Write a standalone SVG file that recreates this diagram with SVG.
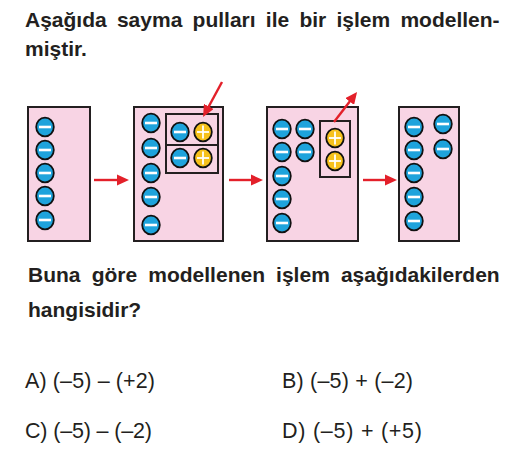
<svg xmlns="http://www.w3.org/2000/svg" width="527" height="453" viewBox="0 0 527 453">
<style>
.t{font-family:"Liberation Sans",Arial,sans-serif;fill:#231f20}
.b{font-weight:bold;font-size:21px}
.r{font-size:21.5px}
.box{fill:#f8d4e4;stroke:#231f20;stroke-width:2}
.in{fill:none;stroke:#231f20;stroke-width:2}
.neg{fill:#1ea3dc;stroke:#111;stroke-width:1.8}
.pos{fill:#f6c11c;stroke:#111;stroke-width:1.8}
.sg{stroke:#fff;stroke-width:2.6;fill:none}
.sp{stroke:#fff;stroke-width:1.8;fill:none}
.ar{stroke:#e3202a;stroke-width:2.4;fill:none}
</style>
<defs>
<g id="m"><ellipse class="neg" cx="0" cy="0" rx="8.8" ry="9.4"/><line class="sg" x1="-6" y1="0" x2="6" y2="0"/></g>
<g id="p"><ellipse class="pos" cx="0" cy="0" rx="8.8" ry="9.4"/><line class="sp" x1="-6" y1="0" x2="6" y2="0"/><line class="sp" x1="0" y1="-6.5" x2="0" y2="6.5"/></g>
<marker id="ah" viewBox="0 0 12 11" refX="6" refY="5.5" markerWidth="5" markerHeight="4.6" orient="auto" markerUnits="strokeWidth"><path d="M0,0 L12,5.5 L0,11 Z" fill="#e3202a"/></marker>
</defs>
<text class="t b" x="25" y="27" word-spacing="4.4">Aşağıda sayma pulları ile bir işlem modellen-</text>
<text class="t b" x="25" y="56">miştir.</text>
<g id="node1">
<rect class="box" x="28" y="107" width="62" height="134"/>
<use href="#m" x="45" y="127"/><use href="#m" x="45" y="150"/><use href="#m" x="45" y="173"/><use href="#m" x="45" y="196"/><use href="#m" x="45" y="220"/>
</g>
<g id="node2">
<rect class="box" x="134" y="107" width="89" height="134"/>
<use href="#m" x="151" y="123"/><use href="#m" x="151" y="148"/><use href="#m" x="151" y="173"/><use href="#m" x="151" y="197"/><use href="#m" x="151" y="225"/>
<rect class="in" x="166" y="114" width="52" height="59"/>
<line class="in" x1="166" y1="145" x2="218" y2="145"/>
<use href="#m" x="180" y="132"/><use href="#p" x="203" y="132"/>
<use href="#m" x="180" y="158"/><use href="#p" x="203" y="158"/>
</g>
<g id="node3">
<rect class="box" x="267" y="107" width="91" height="134"/>
<use href="#m" x="282" y="129"/><use href="#m" x="305" y="129"/>
<use href="#m" x="282" y="152"/><use href="#m" x="305" y="152"/>
<use href="#m" x="282" y="176"/><use href="#m" x="282" y="199"/><use href="#m" x="282" y="223"/>
<rect class="in" x="320" y="121" width="30" height="56"/>
<use href="#p" x="335" y="138"/><use href="#p" x="335" y="161"/>
</g>
<g id="node4">
<rect class="box" x="399" y="107" width="60" height="134"/>
<use href="#m" x="414" y="127"/><use href="#m" x="414" y="150"/><use href="#m" x="414" y="173"/><use href="#m" x="414" y="197"/><use href="#m" x="414" y="221"/>
<use href="#m" x="443" y="124"/><use href="#m" x="443" y="149"/>
</g>
<g id="connectors">
<line class="ar" x1="94" y1="180" x2="123" y2="180" marker-end="url(#ah)"/>
<line class="ar" x1="229" y1="180" x2="257" y2="180" marker-end="url(#ah)"/>
<line class="ar" x1="363" y1="180" x2="391" y2="180" marker-end="url(#ah)"/>
<line class="ar" x1="222" y1="82" x2="205.9" y2="111.7" marker-end="url(#ah)"/>
<line class="ar" x1="334" y1="122" x2="353.4" y2="96.8" marker-end="url(#ah)"/>
</g>
<text class="t b" x="28" y="282" word-spacing="5.3">Buna göre modellenen işlem aşağıdakilerden</text>
<text class="t b" x="28" y="317">hangisidir?</text>
<text class="t r" x="25" y="388" textLength="130" lengthAdjust="spacing">A) (–5) – (+2)</text>
<text class="t r" x="282" y="388" textLength="131" lengthAdjust="spacing">B) (–5) + (–2)</text>
<text class="t r" x="25" y="438" textLength="127" lengthAdjust="spacing">C) (–5) – (–2)</text>
<text class="t r" x="282" y="438" textLength="140" lengthAdjust="spacing">D) (–5) + (+5)</text>
</svg>
